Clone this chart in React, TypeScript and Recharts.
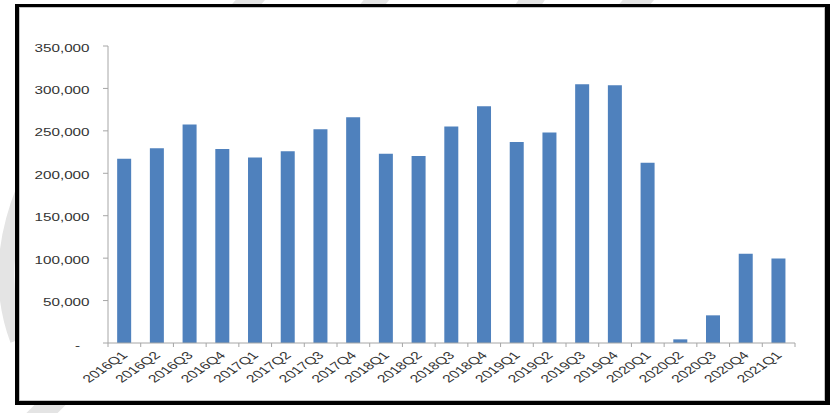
import { BarChart, Bar, XAxis, YAxis } from "recharts";

// quarterly totals
const quarters = [
  "2016Q1", "2016Q2", "2016Q3", "2016Q4",
  "2017Q1", "2017Q2", "2017Q3", "2017Q4",
  "2018Q1", "2018Q2", "2018Q3", "2018Q4",
  "2019Q1", "2019Q2", "2019Q3", "2019Q4",
  "2020Q1", "2020Q2", "2020Q3", "2020Q4",
  "2021Q1",
];
const totals = [
  217000, 229500, 257500, 228500,
  218500, 226000, 252000, 266000,
  223000, 220500, 255000, 279000,
  237000, 248000, 304800, 303800,
  212300, 4300, 32600, 105200,
  99700,
];
const yTicks = [0, 50000, 100000, 150000, 200000, 250000, 300000, 350000];

const chartData = quarters.map((q, i) => ({ quarter: q, total: totals[i] }));

const CHART_W = 804;
const CHART_H = 392;
const Y_AXIS_W = 88;
const MARGIN = { top: 38, right: 29, left: 0, bottom: 0 };
const PLOT_W = CHART_W - Y_AXIS_W - MARGIN.right - MARGIN.left;
const BAND = PLOT_W / quarters.length;

const AXIS_GREY = "#a6a6a6";
const TEXT = "#333333";
const FONT = "'Liberation Sans', Arial, sans-serif";
const STRETCH = 1.45; // the screenshot is stretched sideways

const fmt = (v: number) => (v === 0 ? "-" : v.toLocaleString("en-US"));

function YTick({ x, y, payload }: any) {
  const v = payload.value as number;
  return (
    <g>
      <line x1={x - 5} x2={x} y1={y} y2={y} stroke={AXIS_GREY} />
      <text
        transform={`translate(${v === 0 ? x - 28 : x - 18.5},${y + 5.5}) scale(${STRETCH},1)`}
        textAnchor="end"
        fontSize={10.5}
        fontFamily={FONT}
        fill={TEXT}
      >
        {fmt(v)}
      </text>
    </g>
  );
}

function XTick({ x, y, payload, index }: any) {
  const half = payload.offset || BAND / 2;
  const last = index === quarters.length - 1 || payload.value === quarters[quarters.length - 1];
  return (
    <g>
      <line x1={x - half} x2={x - half} y1={y} y2={y + 4} stroke={AXIS_GREY} />
      {last && <line x1={x + half} x2={x + half} y1={y} y2={y + 4} stroke={AXIS_GREY} />}
      <text
        transform={`translate(${x + 4},${y + 13}) scale(${STRETCH},1) rotate(-45)`}
        textAnchor="end"
        fontSize={10.8}
        fontFamily={FONT}
        fill={TEXT}
      >
        {payload.value}
      </text>
    </g>
  );
}

// faint grey watermark strokes peeking out round the frame
function Watermark() {
  const c = "#e4e4e4";
  return (
    <svg width={836} height={413} style={{ position: "absolute", left: 0, top: 0 }}>
      <line x1={268} y1={-20} x2={215} y2={40} stroke={c} strokeWidth={22} />
      <line x1={392} y1={-20} x2={345} y2={40} stroke={c} strokeWidth={20} />
      <line x1={545} y1={-20} x2={505} y2={40} stroke={c} strokeWidth={22} />
      <line x1={655} y1={-20} x2={605} y2={40} stroke={c} strokeWidth={24} />
      <path d="M 24 190 Q -8 270 18 340" fill="none" stroke={c} strokeWidth={16} />
      <line x1={60} y1={395} x2={25} y2={430} stroke={c} strokeWidth={22} />
    </svg>
  );
}

export default function App() {
  return (
    <div
      style={{
        position: "absolute",
        left: 0,
        top: 0,
        width: 836,
        height: 413,
        background: "#ffffff",
        overflow: "hidden",
      }}
    >
      <Watermark />
      <div
        style={{
          position: "absolute",
          left: 15,
          top: 4,
          width: 815,
          height: 401,
          boxSizing: "border-box",
          borderStyle: "solid",
          borderColor: "#000",
          borderWidth: "3px 5px 4px 4px",
          background: "#fff",
        }}
      >
        <div
          style={{
            position: "absolute",
            inset: 0,
            border: "1px solid #c4c4c4",
          }}
        >
          <BarChart
            width={CHART_W}
            height={CHART_H}
            data={chartData}
            margin={MARGIN}
            barCategoryGap="28%"
          >
            <XAxis
              dataKey="quarter"
              interval={0}
              height={57}
              tickSize={0}
              tickMargin={0}
              tickLine={false}
              axisLine={{ stroke: AXIS_GREY }}
              tick={<XTick />}
            />
            <YAxis
              width={Y_AXIS_W}
              domain={[0, 350000]}
              ticks={yTicks}
              interval={0}
              tickSize={0}
              tickMargin={0}
              tickLine={false}
              axisLine={{ stroke: AXIS_GREY }}
              tick={<YTick />}
            />
            <Bar dataKey="total" fill="#4f81bd" isAnimationActive={false} />
          </BarChart>
        </div>
      </div>
    </div>
  );
}
